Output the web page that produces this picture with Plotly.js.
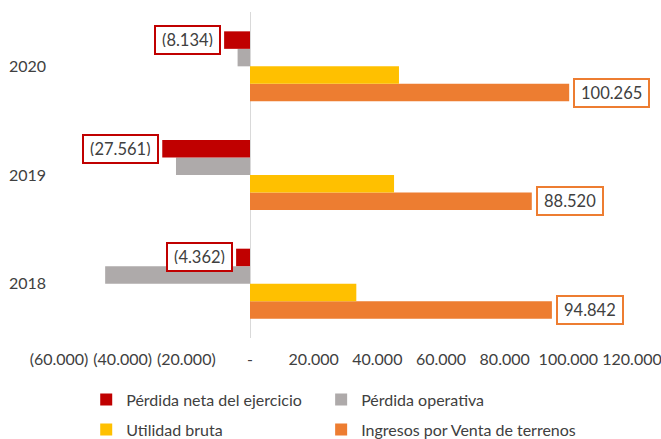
<!DOCTYPE html>
<html>
<head>
<meta charset="utf-8">
<script src="https://cdn.plot.ly/plotly-3.0.1.min.js"></script>
<style>html,body{margin:0;padding:0;background:#fff;}#chart{width:661px;height:439px;}</style>
</head>
<body>
<div id="chart"></div>
<script>
const categories = ['2018', '2019', '2020'];
const perdidaNeta = [-4362, -27561, -8134];
const perdidaOperativa = [-45500, -23250, -3900];
const utilidadBruta = [33400, 45250, 46800];
const ingresosVenta = [94842, 88520, 100265];
const tickVals = [-60000, -40000, -20000, 0, 20000, 40000, 60000, 80000, 100000, 120000];
const tickText = ['(60.000)', '(40.000)', '(20.000)', '-', '20.000', '40.000', '60.000', '80.000', '100.000', '120.000'];

function fmt(v) {
  const s = Math.abs(v).toString().replace(/\B(?=(\d{3})+(?!\d))/g, '.');
  return v < 0 ? '(' + s + ')' : s;
}

const FONT = 'Lato, "Open Sans", sans-serif';
const TXT = '#404040';
const bargap = 0.356;

const traces = [
  {name: 'Ingresos por Venta de terrenos', y: categories, x: ingresosVenta, color: '#ED7D31', legend: 'legend4'},
  {name: 'Utilidad bruta', y: categories, x: utilidadBruta, color: '#FFC000', legend: 'legend3'},
  {name: 'Pérdida operativa', y: categories, x: perdidaOperativa, color: '#AEAAAA', legend: 'legend2'},
  {name: 'Pérdida neta del ejercicio', y: categories, x: perdidaNeta, color: '#C00000', legend: 'legend'}
].map(t => ({
  type: 'bar', orientation: 'h', name: t.name, x: t.x, y: t.y,
  marker: {color: t.color, line: {width: 0}},
  legend: t.legend, hoverinfo: 'x+name'
}));

const w = (1 - bargap) / 4;
const offNeta = -(1 - bargap) / 2 + 3.5 * w;
const offIng = -(1 - bargap) / 2 + 0.5 * w;

const annotations = [];
categories.forEach((c, i) => {
  annotations.push({
    x: perdidaNeta[i], y: i + offNeta, xref: 'x', yref: 'y',
    text: fmt(perdidaNeta[i]), showarrow: false, xanchor: 'right', yanchor: 'middle', xshift: -3,
    font: {family: FONT, size: 16.5, color: TXT}, bgcolor: '#ffffff',
    bordercolor: '#C00000', borderwidth: 2, borderpad: 6, height: 14
  });
  annotations.push({
    x: ingresosVenta[i], y: i + offIng, xref: 'x', yref: 'y',
    text: fmt(ingresosVenta[i]), showarrow: false, xanchor: 'left', yanchor: 'middle', xshift: 4,
    font: {family: FONT, size: 16.5, color: TXT}, bgcolor: '#ffffff',
    bordercolor: '#ED7D31', borderwidth: 2, borderpad: 6, height: 14
  });
});

function leg(x, y) {
  return {
    orientation: 'h', x: x, xanchor: 'left', y: y, yanchor: 'middle',
    font: {family: FONT, size: 16, color: TXT}, bgcolor: 'rgba(0,0,0,0)'
  };
}

const layout = {
  width: 661, height: 439,
  margin: {l: 59, r: 29, t: 12, b: 101, autoexpand: false},
  paper_bgcolor: '#ffffff', plot_bgcolor: '#ffffff',
  font: {family: FONT, size: 16, color: TXT},
  barmode: 'group', bargap: bargap, bargroupgap: 0,
  showlegend: true,
  xaxis: {
    range: [-60000, 120000], tickvals: tickVals, ticktext: tickText,
    showgrid: false, zeroline: true, zerolinecolor: '#D9D9D9', zerolinewidth: 1,
    showline: false, ticks: '', ticklabelstandoff: 10, ticklabeloverflow: 'allow',
    tickfont: {family: FONT, size: 16, color: TXT}, fixedrange: true
  },
  yaxis: {
    type: 'category', categoryorder: 'array', categoryarray: categories,
    range: [-0.5, 2.5], showgrid: false, zeroline: false, showline: false, ticks: '',
    ticklabelstandoff: 12, tickfont: {family: FONT, size: 16, color: TXT}, fixedrange: true
  },
  legend: leg(0.0475, -0.189),
  legend2: leg(0.4575, -0.189),
  legend3: leg(0.0475, -0.281),
  legend4: leg(0.4575, -0.281),
  annotations: annotations
};

Plotly.newPlot('chart', traces, layout, {displayModeBar: false, staticPlot: true});
</script>
</body>
</html>
